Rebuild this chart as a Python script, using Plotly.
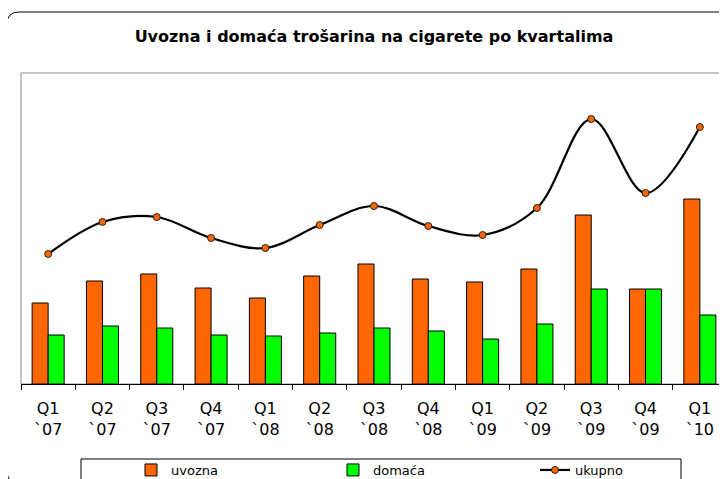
import plotly.graph_objects as go

categories = ["Q1<br>`07", "Q2<br>`07", "Q3<br>`07", "Q4<br>`07",
              "Q1<br>`08", "Q2<br>`08", "Q3<br>`08", "Q4<br>`08",
              "Q1<br>`09", "Q2<br>`09", "Q3<br>`09", "Q4<br>`09",
              "Q1<br>`10"]
uvozna = [81, 103, 110, 96, 86, 108, 120, 105, 102, 115, 169, 95, 185]
domaca = [49, 58, 56, 49, 48, 51, 56, 53, 45, 60, 95, 95, 69]
ukupno = [130, 162, 167, 146, 136, 159, 178, 158, 149, 176, 265, 191, 257]

OFF = 8  # page offset of the figure inside the browser window
W, H = 727 - OFF, 479 - OFF
ML, MR, MT, MB = 21 - OFF, 0, 73 - OFF, 479 - 384
PW = W - ML - MR
PH = H - MT - MB


def px(xr):
    # reference-window pixel x -> paper x
    return (xr - OFF - ML) / PW


def py(yr):
    # reference-window pixel y -> paper y
    return (H - MB - (yr - OFF)) / PH


fig = go.Figure()
fig.add_trace(go.Bar(x=categories, y=uvozna, name="uvozna",
                     marker=dict(color="#FF6600", line=dict(color="#000000", width=1))))
fig.add_trace(go.Bar(x=categories, y=domaca, name="domaća",
                     marker=dict(color="#00FF00", line=dict(color="#000000", width=1))))
fig.add_trace(go.Scatter(x=categories, y=ukupno, name="ukupno", mode="lines+markers",
                         line=dict(color="#000000", width=2.2, shape="spline", smoothing=1.0),
                         marker=dict(color="#FF6600", size=7, line=dict(color="#222222", width=1))))

# outer rounded frame
x0, y0, x1, y1, r = 7, 12, 733, 483, 12
path = (f"M{px(x0)},{py(y0 + r)} Q{px(x0)},{py(y0)} {px(x0 + r)},{py(y0)} "
        f"L{px(x1 - r)},{py(y0)} Q{px(x1)},{py(y0)} {px(x1)},{py(y0 + r)} "
        f"L{px(x1)},{py(y1 - r)} Q{px(x1)},{py(y1)} {px(x1 - r)},{py(y1)} "
        f"L{px(x0 + r)},{py(y1)} Q{px(x0)},{py(y1)} {px(x0)},{py(y1 - r)} Z")

shapes = [
    dict(type="path", xref="paper", yref="paper", path=path,
         line=dict(color="#000000", width=1), layer="below"),
    # plot area border (grey)
    dict(type="rect", xref="paper", yref="paper", x0=0, x1=1.01, y0=0, y1=1,
         line=dict(color="#8C8C8C", width=1), layer="below"),
    # legend box
    dict(type="rect", xref="paper", yref="paper", x0=px(81), x1=px(681), y0=py(492), y1=py(459),
         line=dict(color="#000000", width=1), layer="below"),
]

fig.update_layout(
    width=W, height=H,
    margin=dict(l=ML, r=MR, t=MT, b=MB, autoexpand=False),
    paper_bgcolor="white", plot_bgcolor="white",
    barmode="group", bargap=0.41, bargroupgap=0,
    font=dict(family="DejaVu Sans", color="#000000"),
    title=dict(text="<b>Uvozna i domaća trošarina na cigarete po kvartalima</b>",
               x=(374 - OFF) / W, xanchor="center", y=1 - (36 - OFF) / H, yanchor="middle",
               font=dict(size=16, family="DejaVu Sans")),
    shapes=shapes,
    showlegend=True,
    legend=dict(orientation="h", x=px(131), xanchor="left", y=py(455), yanchor="top",
                entrywidth=157, entrywidthmode="pixels",
                font=dict(size=13, family="DejaVu Sans"), bgcolor="rgba(0,0,0,0)",
                borderwidth=0, traceorder="normal"),
    xaxis=dict(type="category", range=[-0.5, 12.5], autorange=False,
               showline=True, linecolor="#000000", linewidth=1,
               ticks="outside", ticklen=5, tickcolor="#000000", tickson="boundaries",
               ticklabelstandoff=10,
               tickfont=dict(size=16, family="DejaVu Sans"), showgrid=False, zeroline=False),
    yaxis=dict(range=[0, 311], showticklabels=False, showgrid=False, zeroline=False,
               showline=False, ticks=""),
)

fig.write_html("out.html")
